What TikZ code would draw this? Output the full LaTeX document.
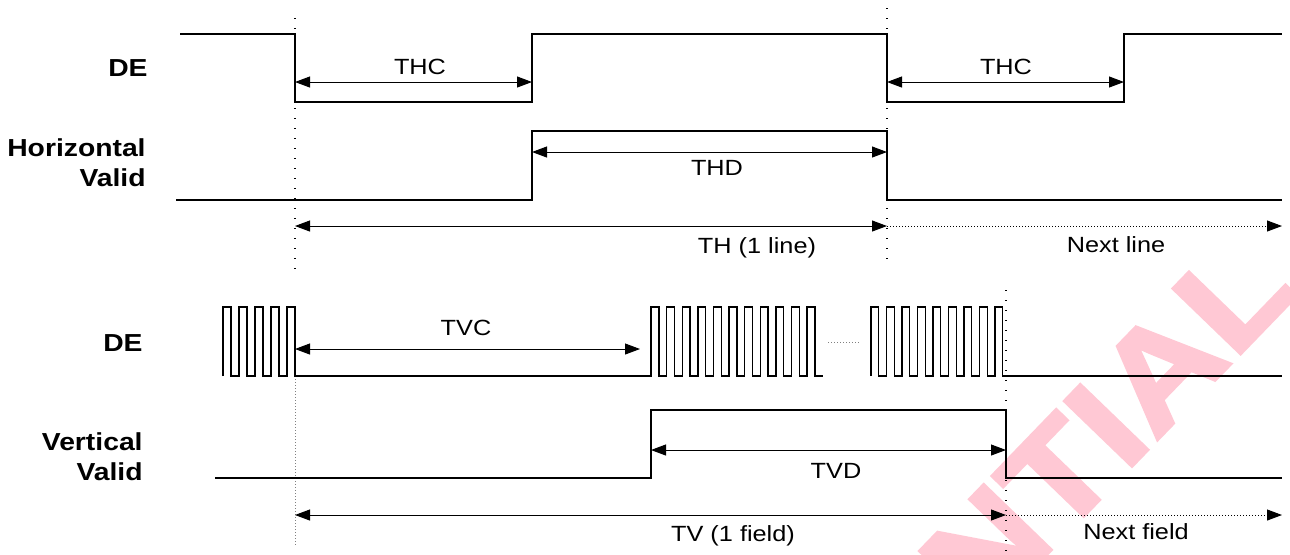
\documentclass[tikz,border=0pt]{standalone}
\usepackage{fontspec}
\setmainfont{Liberation Sans}[FakeStretch=1.15]
\usetikzlibrary{arrows.meta}
\definecolor{wmpink}{RGB}{255,200,212}
\begin{document}
\begin{tikzpicture}[
        x=0.5pt, y=-0.5pt,
        signal/.style={line width=0.7pt},
        dim/.style={line width=0.5pt, {Triangle[length=7.5pt,width=5.5pt]}-{Triangle[length=7.5pt,width=5.5pt]}},
        next_arrow/.style={densely dotted, line width=0.5pt, -{Triangle[length=7.5pt,width=5.5pt]}},
        guide/.style={line width=0.7pt, dash pattern=on 0.7pt off 4.3pt},
        fine_guide/.style={densely dotted, gray, line width=0.5pt},
        sig_label/.style={font=\bfseries\fontsize{12.3}{15}\selectfont, align=right, anchor=east, inner sep=0pt},
        dim_label/.style={font=\fontsize{11}{13}\selectfont, inner sep=0pt},
        watermark/.style={font=\bfseries\addfontfeature{FakeBold=2.5}\fontsize{68}{68}\selectfont, text=wmpink, inner sep=0pt}
    ]
        \useasboundingbox (0,0) rectangle (1290,554);

        % Watermark
        \begin{scope}
            \clip (0,0) rectangle (1290,554);
            \node[watermark, rotate=46, anchor=base east] (wm_text) at (1300,292) {CONFIDENTIAL};
        \end{scope}

        % Signal names
        \node[sig_label] (h_de_name) at (148,68) {DE};
        \node[sig_label] (h_valid_name) at (146,163) {Horizontal\\Valid};
        \node[sig_label] (v_de_name) at (143,343) {DE};
        \node[sig_label] (v_valid_name) at (143,457) {Vertical\\Valid};

        % Guide lines
        \draw[guide] (295,18) -- (295,272);
        \draw[guide] (887,8) -- (887,262);
        \draw[fine_guide] (295,307) -- (295,545);
        \draw[guide] (1006,290) -- (1006,554);

        % Horizontal timing: DE
        \draw[signal] (180,34) -- (295,34) -- (295,102) -- (532,102) -- (532,34)
            -- (887,34) -- (887,102) -- (1124,102) -- (1124,34) -- (1282,34);
        % Horizontal timing: Horizontal Valid
        \draw[signal] (176,200) -- (532,200) -- (532,131) -- (887,131) -- (887,200) -- (1282,200);

        % Vertical timing: DE pulse trains
        \draw[signal] (223,376) foreach \k in {1,...,5} { -- ++(0,-69) -- ++(8,0) -- ++(0,69) -- ++(8,0) }
            -- (651,376) foreach \k in {1,...,11} { -- ++(0,-69) -- ++(7.8,0) -- ++(0,69) -- ++(7.8,0) };
        \draw[fine_guide] (828,342) -- (860,342);
        \draw[signal] (871,376) foreach \k in {1,...,9} { -- ++(0,-69) -- ++(7.75,0) -- ++(0,69) -- ++(7.75,0) }
            -- (1282,376);
        % Vertical timing: Vertical Valid
        \draw[signal] (215,478) -- (651,478) -- (651,410) -- (1006,410) -- (1006,478) -- (1282,478);

        % Dimension arrows, horizontal
        \coordinate (thc1_l) at (295,82);
        \coordinate (thc1_r) at (532,82);
        \coordinate (thc2_l) at (887,82);
        \coordinate (thc2_r) at (1124,82);
        \coordinate (thd_l) at (532,152);
        \coordinate (thd_r) at (887,152);
        \coordinate (th_l) at (295,226);
        \coordinate (th_r) at (887,226);
        \coordinate (nl_end) at (1282,226);
        \draw[dim] (thc1_l) -- (thc1_r);
        \draw[dim] (thc2_l) -- (thc2_r);
        \draw[dim] (thd_l) -- (thd_r);
        \draw[dim] (th_l) -- (th_r);
        \draw[next_arrow] (th_r) -- (nl_end);
        \node[dim_label] (thc1_text) at (420,67) {THC};
        \node[dim_label] (thc2_text) at (1006,67) {THC};
        \node[dim_label] (thd_text) at (717,168) {THD};
        \node[dim_label] (th_text) at (757,248) {TH (1 line)};
        \node[dim_label] (nl_text) at (1116,245) {Next line};

        % Dimension arrows, vertical
        \coordinate (tvc_l) at (295,349);
        \coordinate (tvc_r) at (640,349);
        \coordinate (tvd_l) at (651,450);
        \coordinate (tvd_r) at (1006,450);
        \coordinate (tv_l) at (295,515);
        \coordinate (tv_r) at (1006,515);
        \coordinate (nf_end) at (1282,515);
        \draw[dim] (tvc_l) -- (tvc_r);
        \draw[dim] (tvd_l) -- (tvd_r);
        \draw[dim] (tv_l) -- (tv_r);
        \draw[next_arrow] (tv_r) -- (nf_end);
        \node[dim_label] (tvc_text) at (466,328) {TVC};
        \node[dim_label] (tvd_text) at (836,471) {TVD};
        \node[dim_label] (tv_text) at (733,536) {TV (1 field)};
        \node[dim_label] (nf_text) at (1136,532) {Next field};
    \end{tikzpicture}
\end{document}
